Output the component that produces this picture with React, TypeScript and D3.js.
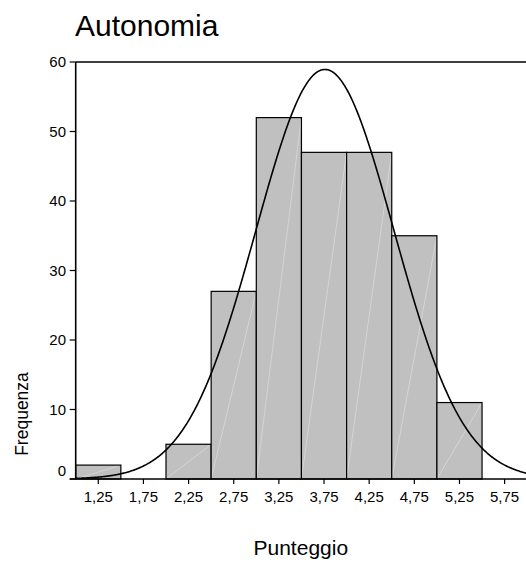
import React from "react";
import * as d3 from "d3";

const binStarts = [1.0, 1.5, 2.0, 2.5, 3.0, 3.5, 4.0, 4.5, 5.0];
const binWidth = 0.5;
const frequencies = [2, 0, 5, 27, 52, 47, 47, 35, 11];
const xTicks = [1.25, 1.75, 2.25, 2.75, 3.25, 3.75, 4.25, 4.75, 5.25, 5.75];
const yTicks = [0, 10, 20, 30, 40, 50, 60];
const curveMean = 3.76;
const curveSd = 0.765;
const title = "Autonomia";
const xLabel = "Punteggio";
const yLabel = "Frequenza";

const W = 526;
const H = 564;
const FONT = "'Liberation Sans', Arial, sans-serif";

export default function App() {
  const x = d3.scaleLinear().domain([1, 6]).range([75.7, 527.2]);
  const y = d3.scaleLinear().domain([0, 60]).range([479, 62]);
  const total = d3.sum(frequencies);
  const normal = (v: number) =>
    (total * binWidth) / (curveSd * Math.sqrt(2 * Math.PI)) *
    Math.exp(-((v - curveMean) ** 2) / (2 * curveSd * curveSd));
  const curvePts = d3.range(1.0, 6.0001, 0.01).map((v) => [v, normal(v)] as [number, number]);
  const line = d3
    .line<[number, number]>()
    .x((d) => x(d[0]))
    .y((d) => y(d[1]))
    .curve(d3.curveLinear);

  return (
    <svg
      width={W}
      height={H}
      style={{ position: "absolute", left: 0, top: 0, background: "#fff" }}
      fontFamily={FONT}
    >
      <rect x={0} y={0} width={W} height={H} fill="#fff" />
      <text x={75} y={36} fontSize={30} fill="#000">
        {title}
      </text>
      {/* bars */}
      {binStarts.map((b, i) => {
        const f = frequencies[i];
        if (f <= 0) return null;
        const x0 = x(b);
        const x1 = x(b + binWidth);
        const yt = y(f);
        const yb = y(0);
        return (
          <g key={i}>
            <rect x={x0} y={yt} width={x1 - x0} height={yb - yt} fill="#c0c0c0" />
            <line x1={x0} y1={yb} x2={x1} y2={yt} stroke="#dcdcdc" strokeWidth={0.7} />
            <rect
              x={x0}
              y={yt}
              width={x1 - x0}
              height={yb - yt}
              fill="none"
              stroke="#000"
              strokeWidth={1.2}
            />
          </g>
        );
      })}
      {/* normal curve */}
      <clipPath id="plotclip">
        <rect x={x(1)} y={y(60)} width={x(6) - x(1)} height={y(0) - y(60)} />
      </clipPath>
      <path
        d={line(curvePts) || ""}
        fill="none"
        stroke="#000"
        strokeWidth={1.6}
        clipPath="url(#plotclip)"
      />
      {/* frame */}
      <line x1={x(1)} y1={y(60)} x2={x(6)} y2={y(60)} stroke="#000" strokeWidth={1.5} />
      <line x1={x(1)} y1={y(60)} x2={x(1)} y2={y(0)} stroke="#000" strokeWidth={1.6} />
      <line x1={x(1) - 6} y1={y(0)} x2={x(6)} y2={y(0)} stroke="#000" strokeWidth={1.6} />
      {/* y ticks */}
      {yTicks.map((t) => (
        <g key={t}>
          <line x1={x(1) - 6} x2={x(1)} y1={y(t)} y2={y(t)} stroke="#000" strokeWidth={1.2} />
          <text
            x={66}
            y={t === 0 ? y(t) - 8 : y(t)}
            dy="0.36em"
            textAnchor="end"
            fontSize={15}
            fill="#000"
          >
            {t}
          </text>
        </g>
      ))}
      {/* x ticks */}
      {xTicks.map((t) => (
        <g key={t}>
          <line x1={x(t)} x2={x(t)} y1={y(0)} y2={y(0) + 5} stroke="#000" strokeWidth={1.2} />
          <text x={x(t)} y={502} textAnchor="middle" fontSize={15} fill="#000">
            {String(t).replace(".", ",")}
          </text>
        </g>
      ))}
      <text x={300.8} y={555} textAnchor="middle" fontSize={21} fill="#000">
        {xLabel}
      </text>
      <text
        transform="translate(28,414) rotate(-90)"
        textAnchor="middle"
        fontSize={17.5}
        fill="#000"
      >
        {yLabel}
      </text>
    </svg>
  );
}
